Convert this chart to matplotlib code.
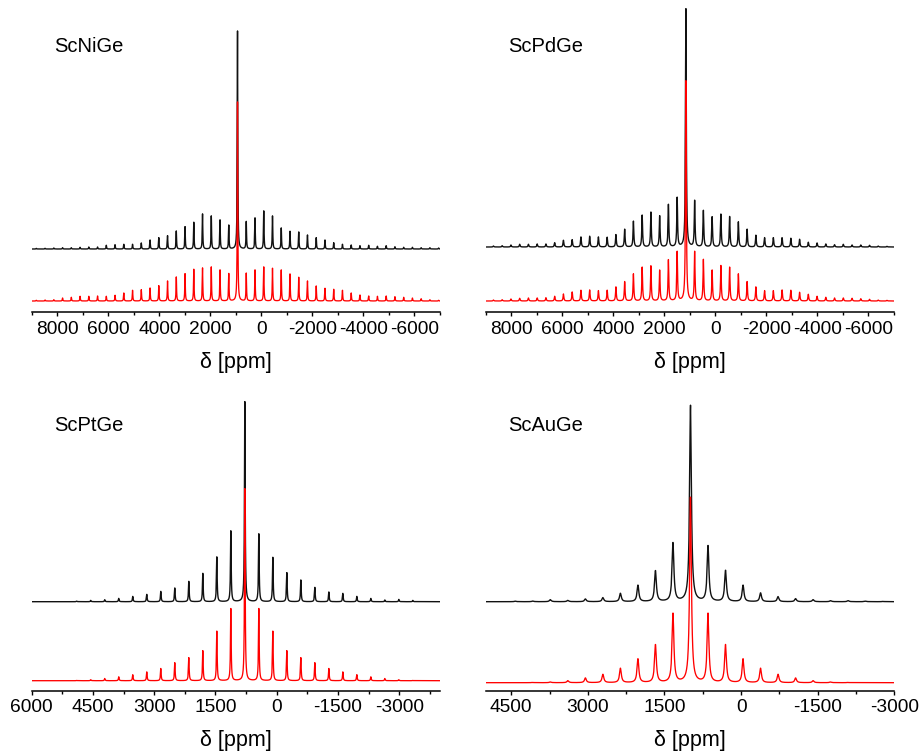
import numpy as np
import matplotlib
matplotlib.use("Agg")
import matplotlib.pyplot as plt
from matplotlib.ticker import MultipleLocator

plt.rcParams['font.family'] = ['Liberation Sans', 'DejaVu Sans']
plt.rcParams['axes.unicode_minus'] = False

# MAS sideband spacing (ppm)
spin_ppm = 343.0

# ---- ScNiGe ----
ni_iso = 940.0
ni_exp_center = 218.0
ni_exp_left = [23.7, 29, 33, 35, 26.7, 22.3, 18, 13.3, 11.3, 9, 6, 4.7, 4.7, 4.3,
               3.7, 2, 2, 1.7, 1.3, 1.3, 1, 0.7, 0.6]
ni_exp_right = [27.3, 31, 38, 33, 21, 17.7, 17, 14, 11.3, 9, 6.3, 4.7, 4, 3.3,
                3.7, 2.7, 3.3, 2.3, 1.7, 1.7, 1.3, 1.3, 1.0]
ni_sim_center = 199.0
ni_sim_left = [27.3, 31, 34, 33, 31.7, 27.3, 24, 20, 15.3, 13, 11.3, 10.7, 8, 5.7,
               4.7, 5, 4.7, 4.7, 3.7, 3, 1.3, 1, 0.7]
ni_sim_right = [27.7, 31, 34, 32.7, 31, 27, 23.7, 20, 15, 12.7, 11.7, 10.7, 8, 6,
                5, 4.7, 5, 4.3, 3.7, 3, 2.3, 1.3, 0.7]

# ---- ScPdGe ----
pd_iso = 1160.0
pd_exp_center = 238.0
pd_exp_left = [49, 42.3, 31, 34.7, 31.7, 25.7, 17.7, 12.3, 9.7, 10, 10.7, 10, 7.3,
               6.7, 4.3, 3, 3, 2.7, 2.7, 2, 1.3, 1]
pd_exp_right = [46, 36.3, 30, 32.7, 30.3, 25, 17.7, 11.7, 9.3, 9.3, 9.3, 8.7, 7.7,
                4.7, 4, 3, 2.3, 2.7, 2, 2, 1.7, 1, 0.7]
pd_sim_center = 220.0
pd_sim_left = [49, 41, 30.7, 35, 33.7, 27, 19.3, 14, 10.7, 10.3, 11, 10.7, 9, 7,
               4.7, 3.3, 3, 3, 2.7, 2, 1.3, 1]
pd_sim_right = [49, 41.3, 30.7, 35.3, 33.7, 27, 19.3, 14, 10.3, 10.3, 11, 10.7, 8.7,
                6.7, 4.7, 3.7, 3, 3, 2.7, 2.3, 1.7, 1, 0.7]

# ---- ScPtGe ----
pt_iso = 780.0
pt_exp_center = 200.0
pt_exp_left = [70.7, 44.7, 28.3, 20.3, 13.7, 10.3, 7.3, 5.3, 3.3, 2, 1.3, 0.6]
pt_exp_right = [67.7, 44.3, 29, 21.7, 14.3, 9.7, 8.3, 5.3, 3.3, 1.7, 2.3, 1.3]
pt_sim_center = 192.0
pt_sim_left = [72, 49.5, 30, 23, 18, 12.2, 8.8, 6, 3.9, 2.2, 1, 0.3]
pt_sim_right = [72, 49.5, 30, 23, 18, 12.2, 8.8, 6, 3.9, 2.2, 1, 0.3]

# ---- ScAuGe ----
au_iso = 990.0
au_exp_center = 196.0
au_exp_left = [58.3, 30.7, 16.3, 8.3, 4, 2.7, 1.3, 2, 0.6, 0.5]
au_exp_right = [55.3, 31, 16.3, 8.7, 5, 3, 2, 1, 1, 0.5, 0.3]
au_sim_center = 185.0
au_sim_left = [68.7, 37.7, 23.7, 14.3, 8.3, 4.7, 2, 0.7, 0.3]
au_sim_right = [68.7, 37.7, 23.7, 14.3, 8.3, 4.7, 2, 0.7, 0.3]

compounds = ["ScNiGe", "ScPdGe", "ScPtGe", "ScAuGe"]
x_limits = [(9000, -7000), (9000, -7000), (6000, -4000), (5000, -3000)]
major_steps = [2000, 2000, 1500, 1500]


def sideband_spectrum(ppm, iso, center, left, right, fwhm):
    """Sum of Lorentzian lines: centre band plus spinning sidebands."""
    hw = fwhm / 2.0
    positions = [iso] + [iso + (k + 1) * spin_ppm for k in range(len(left))] \
        + [iso - (k + 1) * spin_ppm for k in range(len(right))]
    heights = [center] + list(left) + list(right)
    y = np.zeros_like(ppm)
    for p, h in zip(positions, heights):
        y += h * hw ** 2 / ((ppm - p) ** 2 + hw ** 2)
    return y


panels = [
    dict(iso=ni_iso, exp=(ni_exp_center, ni_exp_left, ni_exp_right),
         sim=(ni_sim_center, ni_sim_left, ni_sim_right), fwhm=24.0,
         exp_off=63.0, sim_off=11.0, rect=(32, 2, 440, 312), top=310),
    dict(iso=pd_iso, exp=(pd_exp_center, pd_exp_left, pd_exp_right),
         sim=(pd_sim_center, pd_sim_left, pd_sim_right), fwhm=36.0,
         exp_off=65.0, sim_off=11.0, rect=(486, 2, 894, 312), top=310),
    dict(iso=pt_iso, exp=(pt_exp_center, pt_exp_left, pt_exp_right),
         sim=(pt_sim_center, pt_sim_left, pt_sim_right), fwhm=20.0,
         exp_off=89.0, sim_off=10.0, rect=(31.7, 380, 440, 690.7), top=310.7),
    dict(iso=au_iso, exp=(au_exp_center, au_exp_left, au_exp_right),
         sim=(au_sim_center, au_sim_left, au_sim_right), fwhm=42.0,
         exp_off=89.0, sim_off=8.0, rect=(485.7, 380, 894.3, 690.7), top=310.7),
]

W, H = 920, 753
fig = plt.figure(figsize=(W / 100, H / 100), dpi=100)

for name, lim, step, pnl in zip(compounds, x_limits, major_steps, panels):
    x0, y0, x1, y1 = pnl["rect"]
    ax = fig.add_axes([x0 / W, 1 - y1 / H, (x1 - x0) / W, (y1 - y0) / H])
    ppm = np.linspace(lim[1], lim[0], 40000)

    c, l, r = pnl["exp"]
    y_exp = sideband_spectrum(ppm, pnl["iso"], c, l, r, pnl["fwhm"]) + pnl["exp_off"]
    c, l, r = pnl["sim"]
    y_sim = sideband_spectrum(ppm, pnl["iso"], c, l, r, pnl["fwhm"]) + pnl["sim_off"]

    ax.plot(ppm, y_exp, color="#111111", lw=1.0, zorder=2)
    ax.plot(ppm, y_sim, color="#ff0000", lw=0.95, zorder=3)

    ax.set_xlim(*lim)
    ax.set_ylim(0, pnl["top"])
    for s in ("top", "left", "right"):
        ax.spines[s].set_visible(False)
    ax.spines["bottom"].set_linewidth(1.1)
    ax.set_yticks([])
    ax.xaxis.set_major_locator(MultipleLocator(step))
    ax.xaxis.set_minor_locator(MultipleLocator(step / 2))
    ax.tick_params(axis="x", which="major", direction="out", length=3.2,
                   width=1.0, pad=3.0, labelsize=13.8)
    ax.tick_params(axis="x", which="minor", direction="out", length=2.5, width=1.0)
    ax.patch.set_alpha(0)

    ax.set_xlabel("δ [ppm]", fontsize=15.5, va="center")
    ax.xaxis.set_label_coords(0.5, -50.0 / (y1 - y0))

    fig.text((x0 + 22) / W, 1 - (y0 + 45) / H, name, fontsize=14.5,
             ha="left", va="center")

fig.savefig("out.png", dpi=100)
